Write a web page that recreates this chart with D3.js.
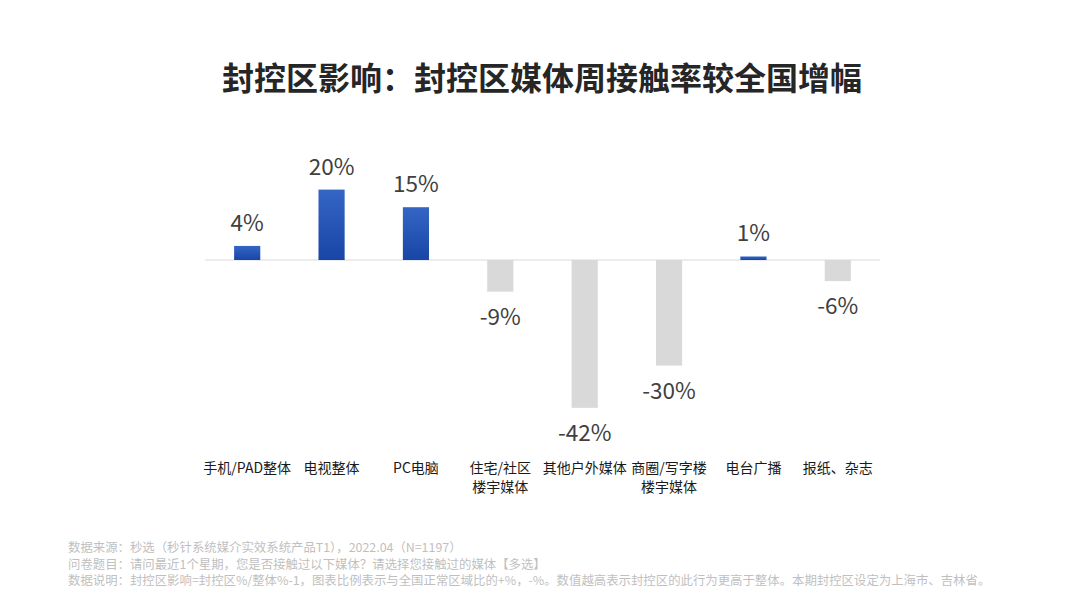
<!DOCTYPE html>
<html>
<head>
<meta charset="utf-8">
<script src="https://cdn.jsdelivr.net/npm/d3@7"></script>
<style>
  body { margin: 0; background: #fff; }
  svg { display: block; font-family: "Noto Sans CJK SC", "Noto Sans", sans-serif; }
</style>
</head>
<body>
<svg id="chart" width="1080" height="608"></svg>
<script>
// chart data
const categories = ['手机/PAD整体', '电视整体', 'PC电脑', '住宅/社区\n楼宇媒体', '其他户外媒体', '商圈/写字楼\n楼宇媒体', '电台广播', '报纸、杂志'];
const values = [4, 20, 15, -9, -42, -30, 1, -6];
const valueLabels = ['4%', '20%', '15%', '-9%', '-42%', '-30%', '1%', '-6%'];

const titleText = '封控区影响：封控区媒体周接触率较全国增幅';
const notes = [
  '数据来源：秒选（秒针系统媒介实效系统产品T1），2022.04（N=1197）',
  '问卷题目：请问最近1个星期，您是否接触过以下媒体？请选择您接触过的媒体【多选】',
  '数据说明：封控区影响=封控区%/整体%-1，图表比例表示与全国正常区域比的+%，-%。数值越高表示封控区的此行为更高于整体。本期封控区设定为上海市、吉林省。'
];

const svg = d3.select('#chart');

const x = d3.scaleBand()
  .domain(categories)
  .range([205, 880])
  .paddingInner(0.69)
  .paddingOuter(0.345);

// 0 at y=260, ~3.52px per percent
const y = d3.scaleLinear()
  .domain([-42, 20])
  .range([260 + 42 * 3.52, 260 - 20 * 3.52]);

const defs = svg.append('defs');
const grad = defs.append('linearGradient')
  .attr('id', 'blueGrad')
  .attr('x1', 0).attr('y1', 0).attr('x2', 0).attr('y2', 1);
grad.append('stop').attr('offset', '0%').attr('stop-color', '#3466c6');
grad.append('stop').attr('offset', '100%').attr('stop-color', '#1845a6');

// title
svg.append('text')
  .attr('x', 542)
  .attr('y', 90)
  .attr('text-anchor', 'middle')
  .attr('font-size', 32)
  .attr('font-weight', 'bold')
  .attr('fill', '#262626')
  .text(titleText);

// zero line
svg.append('line')
  .attr('x1', 205).attr('x2', 880)
  .attr('y1', y(0)).attr('y2', y(0))
  .attr('stroke', '#d9d9d9')
  .attr('stroke-width', 1);

// bars
svg.selectAll('rect.bar')
  .data(values)
  .enter()
  .append('rect')
  .attr('class', 'bar')
  .attr('x', (d, i) => x(categories[i]))
  .attr('width', x.bandwidth())
  .attr('y', d => d >= 0 ? y(d) : y(0))
  .attr('height', d => Math.abs(y(d) - y(0)))
  .attr('fill', d => d >= 0 ? 'url(#blueGrad)' : '#d9d9d9');

// value labels
svg.selectAll('text.val')
  .data(values)
  .enter()
  .append('text')
  .attr('class', 'val')
  .attr('x', (d, i) => x(categories[i]) + x.bandwidth() / 2)
  .attr('y', d => d >= 0 ? y(d) - 15 : y(d) + 33)
  .attr('text-anchor', 'middle')
  .attr('font-size', 22.5)
  .attr('fill', '#404040')
  .text((d, i) => valueLabels[i]);

// category labels
const catG = svg.selectAll('text.cat')
  .data(categories)
  .enter()
  .append('text')
  .attr('class', 'cat')
  .attr('text-anchor', 'middle')
  .attr('font-size', 14)
  .attr('fill', '#1a1a1a');

catG.each(function(d) {
  const lines = d.split('\n');
  const t = d3.select(this);
  lines.forEach((ln, j) => {
    t.append('tspan')
      .attr('x', x(d) + x.bandwidth() / 2)
      .attr('y', 473 + j * 19)
      .text(ln);
  });
});

// footnotes
svg.selectAll('text.note')
  .data(notes)
  .enter()
  .append('text')
  .attr('class', 'note')
  .attr('x', 68)
  .attr('y', (d, i) => 552 + i * 16.5)
  .attr('font-size', 12.4)
  .attr('fill', '#bfbfbf')
  .text(d => d);
</script>
</body>
</html>
